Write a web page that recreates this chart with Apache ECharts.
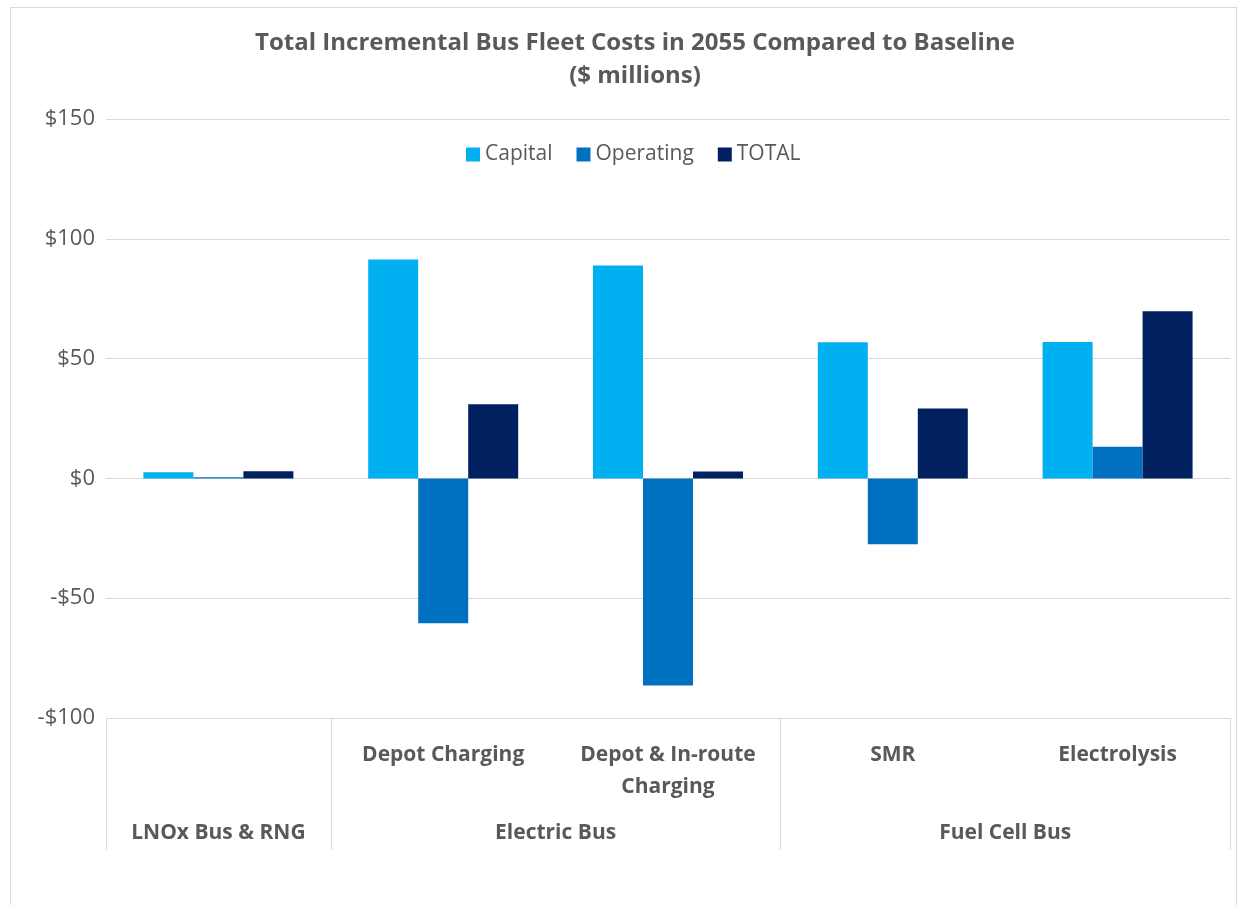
<!DOCTYPE html>
<html>
<head>
<meta charset="utf-8">
<script src="https://cdn.jsdelivr.net/npm/echarts@6/dist/echarts.min.js"></script>
<style>
html, body { margin: 0; padding: 0; background: #fff; }
#frame { position: absolute; left: 10px; top: 7px; width: 1227px; height: 920px; border: 1px solid #d9d9d9; box-sizing: border-box; }
#main { position: absolute; left: 0; top: 0; width: 1238px; height: 905px; }
</style>
</head>
<body>
<div id="frame"></div>
<div id="main"></div>
<script>
// sub categories (first level of the x axis) and their groups
var subCategories = ['', 'Depot Charging', 'Depot & In-route\nCharging', 'SMR', 'Electrolysis'];
var groupNames = ['LNOx Bus & RNG', 'Electric Bus', 'Fuel Cell Bus'];
var groupSizes = [1, 2, 2];

// $ millions
var capital = [2.6, 91.4, 88.9, 56.8, 56.9];
var operating = [0.5, -60.5, -86.4, -27.5, 13.2];
var total = [3.0, 30.9, 2.9, 29.2, 69.8];

var yMin = -100, yMax = 150, yStep = 50;

// group boundaries and centres on a 0..n scale
var groupEdges = [0];
var groupCentres = {};
groupSizes.forEach(function (s, i) {
    var start = groupEdges[groupEdges.length - 1];
    groupEdges.push(start + s);
    groupCentres[start + s / 2] = groupNames[i];
});

var textColor = '#595959';
var lineColor = '#d9d9d9';
var font = 'Open Sans';

var myChart = echarts.init(document.getElementById('main'));
myChart.setOption({
    backgroundColor: 'transparent',
    textStyle: { fontFamily: font },
    title: {
        text: 'Total Incremental Bus Fleet Costs in 2055 Compared to Baseline\n($ millions)',
        left: 630,
        textAlign: 'center',
        top: 22,
        textStyle: { fontFamily: font, fontSize: 24, fontWeight: 'bold', color: textColor, lineHeight: 33 }
    },
    legend: {
        top: 139,
        left: 461,
        itemWidth: 14,
        itemHeight: 14,
        itemGap: 24,
        icon: 'rect',
        textStyle: { fontSize: 21, color: textColor, fontFamily: font }
    },
    grid: { left: 106, right: 8, top: 119, bottom: 187, containLabel: false },
    xAxis: [
        {
            type: 'category',
            data: subCategories,
            position: 'bottom',
            axisLine: { show: false, onZero: false },
            axisTick: { show: false },
            axisLabel: {
                interval: 0,
                margin: 21,
                fontSize: 21,
                fontWeight: 'bold',
                color: textColor,
                lineHeight: 32,
                fontFamily: font
            }
        },
        {
            type: 'value',
            min: 0,
            max: subCategories.length,
            position: 'bottom',
            offset: 132,
            splitLine: { show: false },
            axisLine: { show: false, onZero: false },
            axisTick: {
                show: true,
                inside: true,
                length: 132,
                customValues: groupEdges,
                lineStyle: { color: lineColor, width: 1 }
            },
            axisLabel: {
                customValues: Object.keys(groupCentres).map(Number),
                margin: -27,
                fontSize: 21,
                fontWeight: 'bold',
                color: textColor,
                fontFamily: font,
                formatter: function (v) { return groupCentres[v] || ''; }
            }
        }
    ],
    yAxis: {
        type: 'value',
        min: yMin,
        max: yMax,
        interval: yStep,
        axisLine: { show: false },
        axisTick: { show: false },
        splitLine: { lineStyle: { color: lineColor, width: 1 } },
        axisLabel: {
            fontSize: 22,
            color: textColor,
            margin: 11,
            fontFamily: font,
            formatter: function (v) { return (v < 0 ? '-$' : '$') + Math.abs(v); }
        }
    },
    series: [
        { name: 'Capital', type: 'bar', data: capital, barWidth: 50, barGap: '0%', itemStyle: { color: '#00b0f0' } },
        { name: 'Operating', type: 'bar', data: operating, barWidth: 50, barGap: '0%', itemStyle: { color: '#0070c0' } },
        { name: 'TOTAL', type: 'bar', data: total, barWidth: 50, barGap: '0%', itemStyle: { color: '#002060' } }
    ]
});
</script>
</body>
</html>
